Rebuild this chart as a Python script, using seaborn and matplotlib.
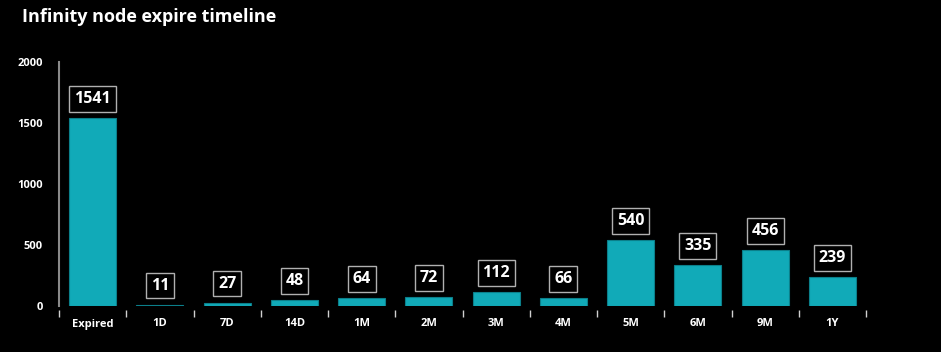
import seaborn as sns
import matplotlib.pyplot as plt
import pandas as pd
import numpy as np

# Data
periods = ['Expired', '1D', '7D', '14D', '1M', '2M', '3M', '4M', '5M', '6M', '9M', '1Y']
nodes = [1541, 11, 27, 48, 64, 72, 112, 66, 540, 335, 456, 239]
yticks = [0, 500, 1000, 1500, 2000]

df = pd.DataFrame({'period': periods, 'nodes': nodes})

sns.set_style('dark')
plt.rcParams['font.family'] = ['Open Sans', 'DejaVu Sans']
plt.rcParams['font.weight'] = 'bold'

fig = plt.figure(figsize=(9.41, 3.52), dpi=100, facecolor='black')
ax = fig.add_axes([59 / 941, 46 / 352, 807 / 941, 244 / 352])
ax.set_facecolor('black')

sns.barplot(data=df, x='period', y='nodes', color='#11aab8', saturation=1,
            width=0.7, edgecolor='#0b7f8a', linewidth=0.8, ax=ax)

for p, v in zip(ax.patches, nodes):
    ax.annotate(str(v), (p.get_x() + p.get_width() / 2, p.get_height()),
                xytext=(0, 8), textcoords='offset points',
                ha='center', va='bottom', color='white', fontsize=11.5, fontweight='bold',
                bbox=dict(boxstyle='square,pad=0.3', facecolor='black',
                          edgecolor='#b0b0b0', linewidth=1))

ax.set_xlim(-0.5, len(periods) - 0.5)
ax.set_ylim(0, 2000)
ax.set_yticks(yticks)
ax.set_xlabel('')
ax.set_ylabel('')
ax.grid(False)

ax.tick_params(axis='y', left=False, colors='white', labelsize=8, pad=8)
ax.tick_params(axis='x', which='major', bottom=True, length=0, colors='white', labelsize=8, pad=6)
ax.set_xticks(np.arange(-0.5, len(periods)), minor=True)
ax.tick_params(axis='x', which='minor', bottom=True, length=5, width=1, color='#d0d0d0', direction='out')
for lab in ax.get_xticklabels() + ax.get_yticklabels():
    lab.set_fontweight('bold')

ax.spines['bottom'].set_position(('outward', 3))
ax.spines['bottom'].set_visible(False)
ax.spines['top'].set_visible(False)
ax.spines['right'].set_visible(False)
ax.spines['left'].set_color('#8a8a8a')
ax.spines['left'].set_linewidth(1.5)
ax.spines['left'].set_bounds(0, 2000)

fig.text(22 / 941, 1 - 17 / 352, 'Infinity node expire timeline', color='white',
         fontsize=13, fontweight='bold', ha='left', va='center')

plt.savefig('out.png', dpi=100, facecolor='black')
